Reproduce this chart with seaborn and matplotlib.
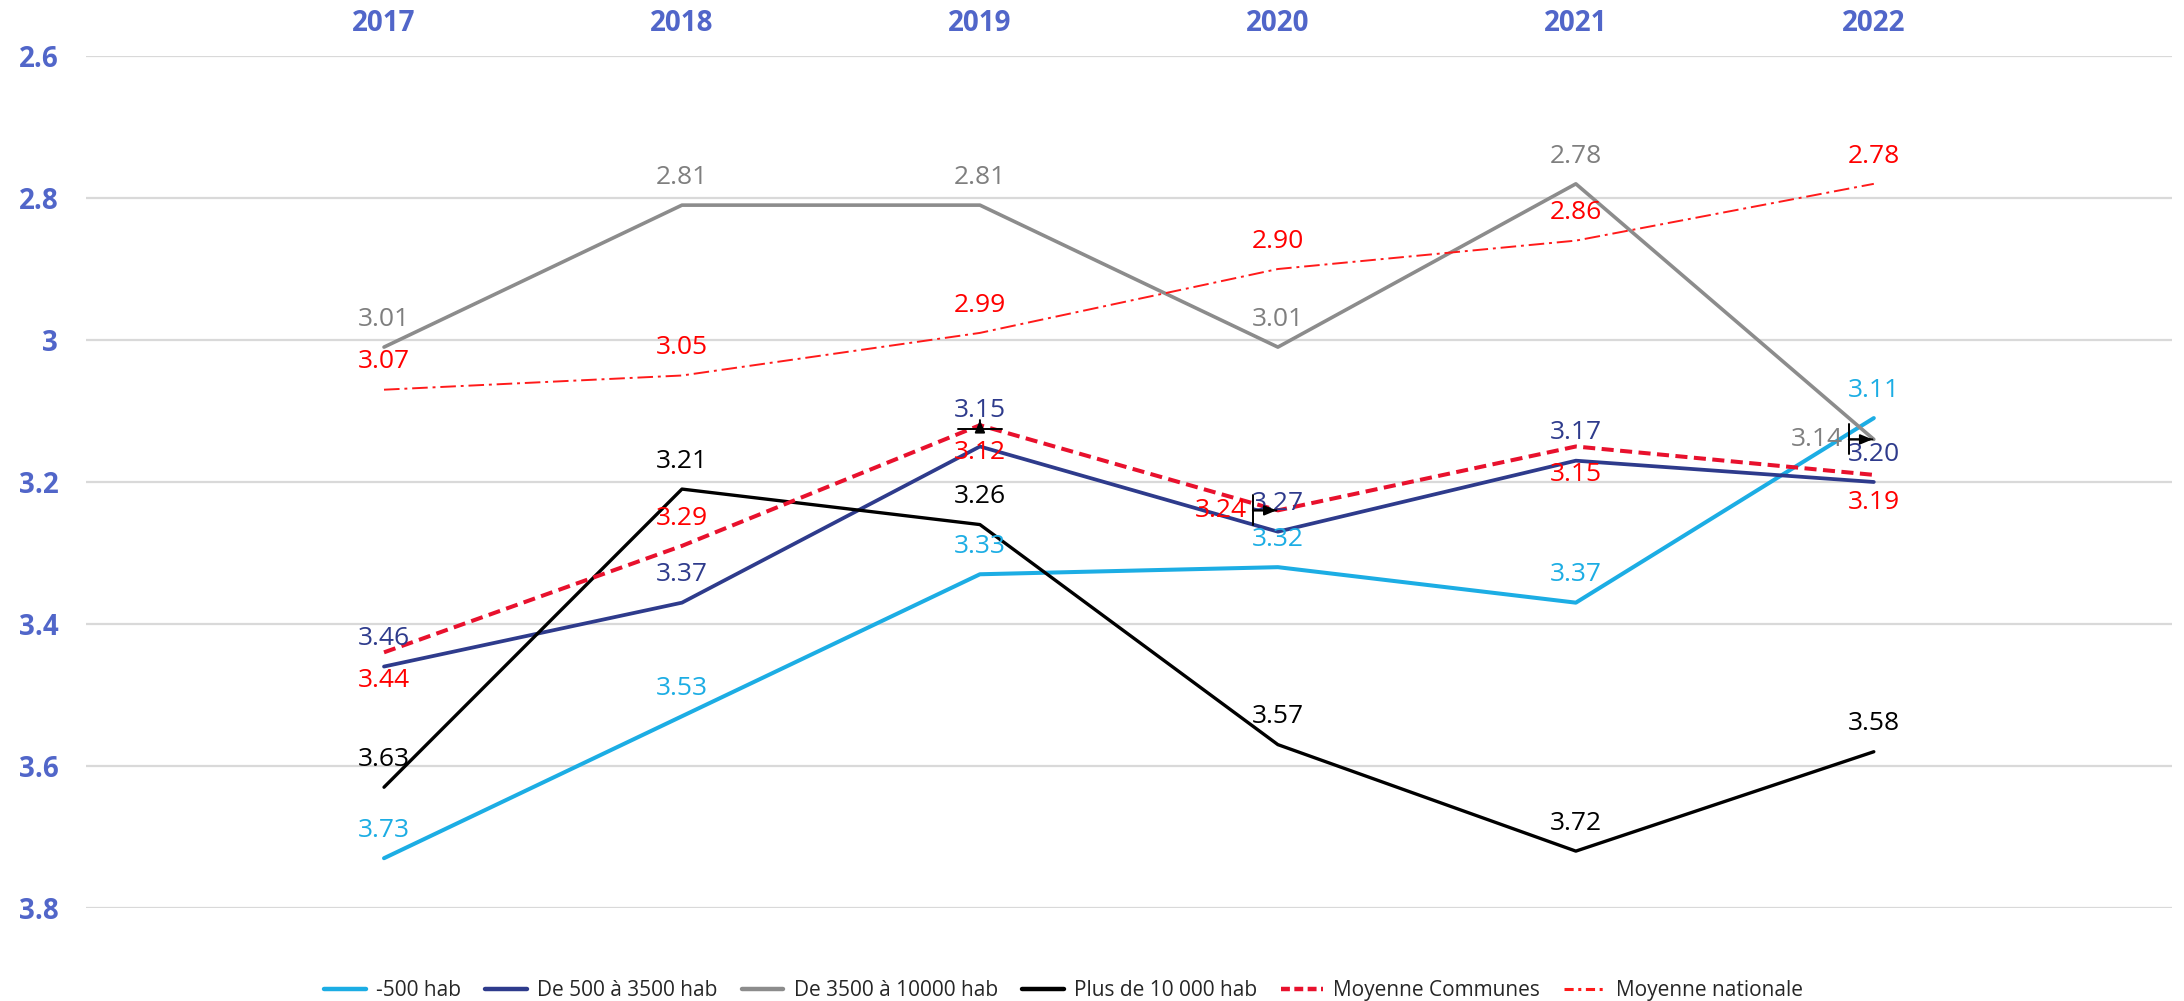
import matplotlib
matplotlib.use("Agg")
import matplotlib.pyplot as plt
import matplotlib.transforms as mtransforms
from matplotlib.lines import Line2D
import seaborn as sns
import pandas as pd

# données
annees = ["2017", "2018", "2019", "2020", "2021", "2022"]
series = ["-500 hab", "De 500 à 3500 hab", "De 3500 à 10000 hab",
          "Plus de 10 000 hab", "Moyenne Communes", "Moyenne nationale"]
moins_500 = [3.73, 3.53, 3.33, 3.32, 3.37, 3.11]
de_500_3500 = [3.46, 3.37, 3.15, 3.27, 3.17, 3.20]
de_3500_10000 = [3.01, 2.81, 2.81, 3.01, 2.78, 3.14]
plus_10000 = [3.63, 3.21, 3.26, 3.57, 3.72, 3.58]
moy_communes = [3.44, 3.29, 3.12, 3.24, 3.15, 3.19]
moy_nationale = [3.07, 3.05, 2.99, 2.90, 2.86, 2.78]
y_ticks = [2.6, 2.8, 3.0, 3.2, 3.4, 3.6, 3.8]
y_tick_labels = ["2.6", "2.8", "3", "3.2", "3.4", "3.6", "3.8"]

valeurs = [moins_500, de_500_3500, de_3500_10000, plus_10000, moy_communes, moy_nationale]

# style
couleurs = ["#1CADE4", "#2E3B8C", "#8C8C8C", "#000000", "#E8112D", "#FF1A1A"]
couleurs_txt = ["#1CADE4", "#2E3B8C", "#7F7F7F", "#000000", "#FF0000", "#FF0000"]
epaisseurs = [2.9, 2.7, 2.6, 2.4, 2.9, 1.4]
tirets = [None, None, None, None, (3, 1.6), (8, 2.5, 1.5, 2.5)]
# a = au-dessus, b = en dessous, t = au-dessus avec repère, g = à gauche avec repère
placement = [
    ["a"] * 6,
    ["a", "a", "t", "a", "a", "a"],
    ["a", "a", "a", "a", "a", "g"],
    ["a"] * 6,
    ["b", "a", "b", "g", "b", "b"],
    ["a"] * 6,
]

bleu_axes = "#5166C9"

sns.set_theme(style="white")
plt.rcParams["font.family"] = ["Open Sans", "DejaVu Sans"]

df = pd.DataFrame({"annee": annees})
for nom, v in zip(series, valeurs):
    df[nom] = v
df_long = df.melt(id_vars="annee", var_name="serie", value_name="valeur")
df_long["pos"] = df_long["annee"].map({a: i for i, a in enumerate(annees)})

fig = plt.figure(figsize=(21.84, 10.01), dpi=100)
ax = fig.add_axes([0.0394, 0.093, 0.955, 0.851])

for ticky in y_ticks:
    ax.axhline(ticky, color="#D9D9D9", lw=1.6, zorder=0)

for i, nom in enumerate(series):
    sub = df_long[df_long["serie"] == nom]
    sns.lineplot(data=sub, x="pos", y="valeur", ax=ax, color=couleurs[i],
                 lw=epaisseurs[i], legend=False, zorder=3 + i * 0.1)
    ln = ax.get_lines()[-1]
    if tirets[i] is not None:
        ln.set_dashes(tirets[i])


def decal(dx, dy):
    return ax.transData + mtransforms.ScaledTranslation(dx / 72, dy / 72, fig.dpi_scale_trans)


def repere(x, y, depart, arrivee, largeur):
    # barre perpendiculaire + flèche pleine
    ax.annotate("", xy=(x, y), xycoords=decal(*arrivee), xytext=(x, y),
                textcoords=decal(*depart),
                arrowprops=dict(arrowstyle=f"]-,widthA={largeur},lengthA=0",
                                color="black", lw=1.4, shrinkA=0, shrinkB=0), zorder=11)
    ax.annotate("", xy=(x, y), xycoords=decal(*arrivee), xytext=(x, y),
                textcoords=decal(*depart),
                arrowprops=dict(arrowstyle="-|>,head_length=0.6,head_width=0.25",
                                color="black", lw=1.4, shrinkA=0, shrinkB=0), zorder=11)


for i, nom in enumerate(series):
    for j, v in enumerate(valeurs[i]):
        txt = f"{v:.2f}"
        p = placement[i][j]
        kw = dict(color=couleurs_txt[i], fontsize=19, zorder=10)
        if p == "a":
            ax.annotate(txt, (j, v), xytext=(0, 20), textcoords="offset points",
                        ha="center", va="center", **kw)
        elif p == "b":
            ax.annotate(txt, (j, v), xytext=(0, -20), textcoords="offset points",
                        ha="center", va="center", **kw)
        elif p == "t":
            ax.annotate(txt, (j, v), xytext=(0, 26), textcoords="offset points",
                        ha="center", va="center", **kw)
            repere(j, v, (0, 12.5), (0, 19), 1.3)
        elif p == "g":
            ax.annotate(txt, (j, v), xytext=(-22, 0), textcoords="offset points",
                        ha="right", va="center", **kw)
            repere(j, v, (-18, 0), (-1, 0), 0.9)

ax.set_xlim(-1, 6)
ax.set_ylim(3.8, 2.6)
ax.set_xticks(range(len(annees)))
ax.set_xticklabels(annees)
ax.set_yticks(y_ticks)
ax.set_yticklabels(y_tick_labels)
ax.set_xlabel("")
ax.set_ylabel("")
ax.xaxis.tick_top()
ax.tick_params(axis="x", length=0, pad=13, labelsize=20, labelcolor=bleu_axes)
ax.tick_params(axis="y", length=0, pad=20, labelsize=20, labelcolor=bleu_axes)
for lab in ax.get_xticklabels() + ax.get_yticklabels():
    lab.set_fontweight("bold")
for s in ax.spines.values():
    s.set_visible(False)
ax.grid(False)

poignees = []
for i, nom in enumerate(series):
    h = Line2D([], [], color=couleurs[i], lw=3.2 if i < 5 else 2.2)
    if tirets[i] is not None:
        h.set_dashes((2, 1) if i == 4 else (3, 1.5, 1, 1.5))
    poignees.append(h)
fig.legend(poignees, series, loc="center", bbox_to_anchor=(0.487, 0.010), ncol=6,
           frameon=False, fontsize=15, handlelength=2.0, handletextpad=0.5,
           columnspacing=1.15)

fig.savefig("out.png", dpi=100)
